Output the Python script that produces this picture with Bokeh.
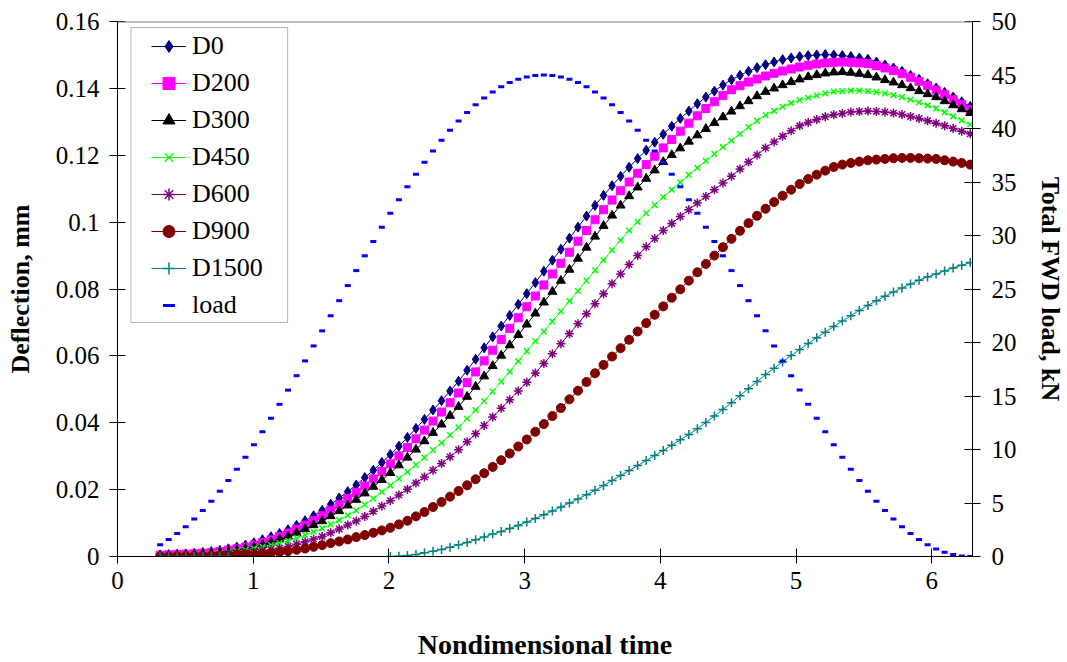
from bokeh.plotting import figure
from bokeh.models import Range1d, LinearAxis, FixedTicker, NumeralTickFormatter, Legend, LegendItem, Span, BoxAnnotation
from bokeh.embed import file_html
from bokeh.resources import INLINE

FONT = '"Liberation Serif"'

# Nondimensional time (x values)
t = [0.3142, 0.3770, 0.4398, 0.5027, 0.5655, 0.6283, 0.6912, 0.7540,
     0.8168, 0.8796, 0.9425, 1.0053, 1.0681, 1.1310, 1.1938, 1.2566,
     1.3195, 1.3823, 1.4451, 1.5080, 1.5708, 1.6336, 1.6965, 1.7593,
     1.8221, 1.8850, 1.9478, 2.0106, 2.0735, 2.1363, 2.1991, 2.2619,
     2.3248, 2.3876, 2.4504, 2.5133, 2.5761, 2.6389, 2.7018, 2.7646,
     2.8274, 2.8903, 2.9531, 3.0159, 3.0788, 3.1416, 3.2044, 3.2673,
     3.3301, 3.3929, 3.4558, 3.5186, 3.5814, 3.6442, 3.7071, 3.7699,
     3.8327, 3.8956, 3.9584, 4.0212, 4.0841, 4.1469, 4.2097, 4.2726,
     4.3354, 4.3982, 4.4611, 4.5239, 4.5867, 4.6496, 4.7124, 4.7752,
     4.8381, 4.9009, 4.9637, 5.0265, 5.0894, 5.1522, 5.2150, 5.2779,
     5.3407, 5.4035, 5.4664, 5.5292, 5.5920, 5.6549, 5.7177, 5.7805,
     5.8434, 5.9062, 5.9690, 6.0319, 6.0947, 6.1575, 6.2204, 6.2832]

d0 = [0.0005, 0.0006, 0.0007, 0.0008, 0.0010, 0.0012, 0.0015, 0.0018,
      0.0023, 0.0028, 0.0034, 0.0041, 0.0050, 0.0059, 0.0069, 0.0080,
      0.0093, 0.0107, 0.0122, 0.0138, 0.0156, 0.0175, 0.0194, 0.0214,
      0.0236, 0.0258, 0.0281, 0.0305, 0.0330, 0.0356, 0.0383, 0.0410,
      0.0438, 0.0466, 0.0495, 0.0524, 0.0557, 0.0590, 0.0624, 0.0657,
      0.0689, 0.0721, 0.0754, 0.0786, 0.0819, 0.0853, 0.0886, 0.0919,
      0.0952, 0.0985, 0.1018, 0.1050, 0.1080, 0.1109, 0.1137, 0.1164,
      0.1190, 0.1215, 0.1239, 0.1263, 0.1287, 0.1310, 0.1332, 0.1354,
      0.1374, 0.1392, 0.1410, 0.1426, 0.1439, 0.1451, 0.1462, 0.1471,
      0.1479, 0.1486, 0.1491, 0.1495, 0.1498, 0.1500, 0.1501, 0.1500,
      0.1498, 0.1495, 0.1491, 0.1487, 0.1479, 0.1470, 0.1461, 0.1451,
      0.1439, 0.1427, 0.1414, 0.1401, 0.1388, 0.1374, 0.1360, 0.1346]

d200 = [0.0004, 0.0005, 0.0006, 0.0007, 0.0008, 0.0010, 0.0012, 0.0015,
        0.0019, 0.0023, 0.0028, 0.0034, 0.0042, 0.0050, 0.0060, 0.0070,
        0.0082, 0.0094, 0.0108, 0.0122, 0.0138, 0.0155, 0.0173, 0.0191,
        0.0211, 0.0232, 0.0254, 0.0277, 0.0301, 0.0326, 0.0352, 0.0378,
        0.0405, 0.0432, 0.0460, 0.0489, 0.0520, 0.0552, 0.0585, 0.0617,
        0.0649, 0.0682, 0.0714, 0.0747, 0.0779, 0.0812, 0.0845, 0.0877,
        0.0910, 0.0943, 0.0975, 0.1007, 0.1037, 0.1066, 0.1094, 0.1120,
        0.1146, 0.1172, 0.1197, 0.1222, 0.1247, 0.1272, 0.1296, 0.1318,
        0.1340, 0.1360, 0.1379, 0.1396, 0.1408, 0.1419, 0.1428, 0.1437,
        0.1445, 0.1452, 0.1458, 0.1464, 0.1469, 0.1473, 0.1476, 0.1478,
        0.1479, 0.1478, 0.1476, 0.1474, 0.1468, 0.1461, 0.1453, 0.1444,
        0.1433, 0.1421, 0.1408, 0.1395, 0.1381, 0.1366, 0.1352, 0.1337]

d300 = [0.0003, 0.0003, 0.0004, 0.0005, 0.0006, 0.0008, 0.0010, 0.0012,
        0.0015, 0.0019, 0.0023, 0.0028, 0.0035, 0.0042, 0.0051, 0.0060,
        0.0071, 0.0082, 0.0094, 0.0106, 0.0121, 0.0136, 0.0153, 0.0170,
        0.0189, 0.0209, 0.0229, 0.0250, 0.0273, 0.0296, 0.0320, 0.0345,
        0.0370, 0.0395, 0.0421, 0.0448, 0.0478, 0.0508, 0.0539, 0.0570,
        0.0601, 0.0632, 0.0663, 0.0694, 0.0727, 0.0760, 0.0792, 0.0825,
        0.0858, 0.0891, 0.0924, 0.0957, 0.0989, 0.1020, 0.1050, 0.1078,
        0.1104, 0.1130, 0.1155, 0.1180, 0.1201, 0.1221, 0.1241, 0.1260,
        0.1279, 0.1297, 0.1314, 0.1331, 0.1347, 0.1362, 0.1377, 0.1390,
        0.1400, 0.1410, 0.1419, 0.1427, 0.1434, 0.1440, 0.1445, 0.1448,
        0.1449, 0.1447, 0.1444, 0.1440, 0.1433, 0.1425, 0.1418, 0.1410,
        0.1401, 0.1392, 0.1383, 0.1374, 0.1362, 0.1350, 0.1338, 0.1327]

d450 = [0.0002, 0.0002, 0.0003, 0.0004, 0.0005, 0.0006, 0.0008, 0.0010,
        0.0013, 0.0016, 0.0020, 0.0024, 0.0029, 0.0034, 0.0040, 0.0047,
        0.0055, 0.0064, 0.0074, 0.0084, 0.0096, 0.0109, 0.0123, 0.0138,
        0.0155, 0.0173, 0.0193, 0.0213, 0.0233, 0.0253, 0.0274, 0.0296,
        0.0318, 0.0340, 0.0363, 0.0386, 0.0412, 0.0438, 0.0465, 0.0493,
        0.0523, 0.0553, 0.0584, 0.0614, 0.0644, 0.0673, 0.0703, 0.0733,
        0.0764, 0.0794, 0.0825, 0.0856, 0.0886, 0.0916, 0.0946, 0.0975,
        0.1001, 0.1027, 0.1051, 0.1075, 0.1097, 0.1119, 0.1141, 0.1162,
        0.1183, 0.1204, 0.1224, 0.1244, 0.1264, 0.1284, 0.1303, 0.1320,
        0.1333, 0.1345, 0.1356, 0.1365, 0.1372, 0.1379, 0.1385, 0.1390,
        0.1392, 0.1393, 0.1393, 0.1392, 0.1389, 0.1385, 0.1380, 0.1374,
        0.1366, 0.1358, 0.1349, 0.1340, 0.1328, 0.1316, 0.1304, 0.1292]

d600 = [0.0001, 0.0001, 0.0002, 0.0002, 0.0003, 0.0003, 0.0004, 0.0005,
        0.0007, 0.0009, 0.0011, 0.0013, 0.0017, 0.0021, 0.0025, 0.0030,
        0.0037, 0.0044, 0.0052, 0.0060, 0.0071, 0.0082, 0.0094, 0.0106,
        0.0120, 0.0135, 0.0151, 0.0167, 0.0184, 0.0201, 0.0220, 0.0238,
        0.0258, 0.0278, 0.0298, 0.0319, 0.0343, 0.0367, 0.0392, 0.0417,
        0.0443, 0.0469, 0.0495, 0.0521, 0.0549, 0.0577, 0.0606, 0.0636,
        0.0666, 0.0696, 0.0726, 0.0756, 0.0786, 0.0816, 0.0845, 0.0873,
        0.0900, 0.0926, 0.0951, 0.0975, 0.0996, 0.1017, 0.1037, 0.1057,
        0.1077, 0.1097, 0.1117, 0.1137, 0.1159, 0.1180, 0.1201, 0.1222,
        0.1240, 0.1257, 0.1273, 0.1288, 0.1298, 0.1307, 0.1315, 0.1321,
        0.1325, 0.1329, 0.1331, 0.1332, 0.1331, 0.1329, 0.1326, 0.1322,
        0.1316, 0.1310, 0.1303, 0.1296, 0.1288, 0.1280, 0.1272, 0.1264]

d900 = [0.0000, 0.0000, 0.0001, 0.0001, 0.0001, 0.0002, 0.0002, 0.0003,
        0.0004, 0.0005, 0.0006, 0.0007, 0.0009, 0.0011, 0.0013, 0.0016,
        0.0020, 0.0024, 0.0029, 0.0034, 0.0040, 0.0045, 0.0051, 0.0058,
        0.0064, 0.0071, 0.0078, 0.0086, 0.0096, 0.0107, 0.0120, 0.0133,
        0.0148, 0.0163, 0.0179, 0.0196, 0.0213, 0.0231, 0.0249, 0.0268,
        0.0288, 0.0308, 0.0329, 0.0350, 0.0373, 0.0396, 0.0420, 0.0444,
        0.0470, 0.0496, 0.0522, 0.0548, 0.0573, 0.0598, 0.0623, 0.0648,
        0.0673, 0.0698, 0.0723, 0.0748, 0.0774, 0.0799, 0.0825, 0.0850,
        0.0875, 0.0900, 0.0925, 0.0950, 0.0974, 0.0997, 0.1019, 0.1040,
        0.1060, 0.1079, 0.1097, 0.1114, 0.1129, 0.1142, 0.1154, 0.1165,
        0.1172, 0.1177, 0.1181, 0.1185, 0.1187, 0.1189, 0.1191, 0.1192,
        0.1192, 0.1191, 0.1190, 0.1189, 0.1185, 0.1181, 0.1177, 0.1172]

# D1500: no values recorded between t~0.88 and t~1.95 (line bridges the gap)
d1500 = [0.0, 0.0, 0.0, 0.0, 0.0, 0.0, 0.0, 0.0,
         0.0, None, None, None, None, None, None, None,
         None, None, None, None, None, None, None, None,
         None, None, None, 0.0000, 0.0001, 0.0003, 0.0006, 0.0011,
         0.0016, 0.0021, 0.0028, 0.0035, 0.0042, 0.0050, 0.0058, 0.0067,
         0.0075, 0.0084, 0.0093, 0.0103, 0.0114, 0.0125, 0.0136, 0.0148,
         0.0160, 0.0172, 0.0185, 0.0198, 0.0212, 0.0227, 0.0242, 0.0257,
         0.0272, 0.0287, 0.0302, 0.0317, 0.0333, 0.0349, 0.0365, 0.0382,
         0.0401, 0.0420, 0.0440, 0.0460, 0.0481, 0.0502, 0.0523, 0.0544,
         0.0563, 0.0582, 0.0601, 0.0619, 0.0637, 0.0654, 0.0671, 0.0688,
         0.0704, 0.0720, 0.0736, 0.0751, 0.0765, 0.0778, 0.0791, 0.0803,
         0.0815, 0.0826, 0.0836, 0.0845, 0.0854, 0.0863, 0.0871, 0.0879]

# Total FWD load, kN (secondary axis)
load = [1.10, 1.58, 2.14, 2.78, 3.50, 4.30, 5.16, 6.10,
        7.10, 8.16, 9.27, 10.44, 11.66, 12.92, 14.22, 15.55,
        16.90, 18.28, 19.68, 21.09, 22.50, 23.91, 25.32, 26.72,
        28.10, 29.45, 30.78, 32.08, 33.34, 34.56, 35.73, 36.84,
        37.90, 38.90, 39.84, 40.70, 41.50, 42.22, 42.86, 43.42,
        43.90, 44.29, 44.60, 44.82, 44.96, 45.00, 44.96, 44.82,
        44.60, 44.29, 43.90, 43.42, 42.86, 42.22, 41.50, 40.70,
        39.84, 38.90, 37.90, 36.84, 35.73, 34.56, 33.34, 32.08,
        30.78, 29.45, 28.10, 26.72, 25.32, 23.91, 22.50, 21.09,
        19.68, 18.28, 16.90, 15.55, 14.22, 12.92, 11.66, 10.44,
        9.27, 8.16, 7.10, 6.10, 5.16, 4.30, 3.50, 2.78,
        2.14, 1.58, 1.10, 0.71, 0.40, 0.18, 0.04, 0.00]

series_names = ["D0", "D200", "D300", "D450", "D600", "D900", "D1500"]
series_values = [d0, d200, d300, d450, d600, d900, d1500]
series_colors = ["#000080", "#FF00FF", "#000000", "#00FF00", "#800080", "#800000", "#008080"]
series_markers = ["diamond", "square", "triangle", "x", "asterisk", "circle", "cross"]
marker_sizes = [10, 8, 9, 8, 9, 9, 9]

x_ticks = [0, 1, 2, 3, 4, 5, 6]
y_ticks = [0, 0.02, 0.04, 0.06, 0.08, 0.10, 0.12, 0.14, 0.16]
load_ticks = [0, 5, 10, 15, 20, 25, 30, 35, 40, 45, 50]

p = figure(width=1067, height=662, output_backend="svg", toolbar_location=None,
           x_range=Range1d(0, 6.3), y_range=Range1d(0, 0.16),
           min_border_left=117, min_border_right=94, min_border_top=21, min_border_bottom=106)
p.extra_y_ranges = {"load": Range1d(0, 50)}
p.outline_line_color = None
p.xgrid.visible = False
p.ygrid.visible = False
p.background_fill_color = "white"
p.border_fill_color = "white"

def style_axis(ax, label, ticks, tin, tout, standoff, label_standoff, title_size):
    ax.ticker = FixedTicker(ticks=ticks)
    ax.axis_label = label
    ax.axis_label_text_font = FONT
    ax.axis_label_text_font_style = "bold"
    ax.axis_label_text_font_size = title_size
    ax.axis_label_text_color = "black"
    ax.axis_label_standoff = label_standoff
    ax.major_label_text_font = FONT
    ax.major_label_text_font_style = "normal"
    ax.major_label_text_font_size = "25px"
    ax.major_label_text_color = "black"
    ax.major_label_standoff = standoff
    ax.major_tick_in = tin
    ax.major_tick_out = tout
    ax.minor_tick_line_color = None
    ax.axis_line_color = "black"
    ax.major_tick_line_color = "black"

style_axis(p.xaxis[0], "Nondimensional time", x_ticks, 8, 7, 8, 37, "28px")
style_axis(p.yaxis[0], "Deflection, mm", y_ticks, 8, 8, 10, 18, "26px")
p.yaxis[0].formatter = NumeralTickFormatter(format="0.[00]")

right = LinearAxis(y_range_name="load")
style_axis(right, "Total FWD load, kN", load_ticks, 8, 8, 11, 16, "26px")
p.add_layout(right, "right")

# gray top border of plot area
p.add_layout(Span(location=0.16, dimension="width", line_color="#808080", line_width=2))

# legend frame (drawn separately so its padding can differ per side)
p.add_layout(BoxAnnotation(left=0.0993, right=1.2537, bottom=0.0700, top=0.1582,
                           fill_color="white", fill_alpha=1.0, line_color="black", line_width=1,
                           level="underlay"))

items = []
for name, vals, col, mk, ms in zip(series_names, series_values, series_colors, series_markers, marker_sizes):
    xs = [tt for tt, v in zip(t, vals) if v is not None]
    ys = [v for v in vals if v is not None]
    ln = p.line(xs, ys, line_color=col, line_width=1)
    if mk in ("x", "asterisk", "cross"):
        sc = p.scatter(xs, ys, marker=mk, size=ms, line_color=col, line_width=1.5, fill_color=None)
    else:
        sc = p.scatter(xs, ys, marker=mk, size=ms, line_color=col, fill_color=col, line_width=1)
    items.append(LegendItem(label=name, renderers=[ln, sc]))

ld = p.scatter(t, load, marker="dash", size=6, line_color="#0000FF", line_width=3, y_range_name="load")
items.append(LegendItem(label="load", renderers=[ld]))

legend = Legend(items=items, location=(34, 236), border_line_color=None,
                background_fill_alpha=0.0,
                padding=4, spacing=7, margin=0,
                label_text_font=FONT, label_text_font_style="normal",
                label_text_font_size="26px", label_text_color="black",
                glyph_width=35, glyph_height=30, label_height=30, label_standoff=6)
p.add_layout(legend)

open("out.html", "w").write(file_html(p, INLINE))
